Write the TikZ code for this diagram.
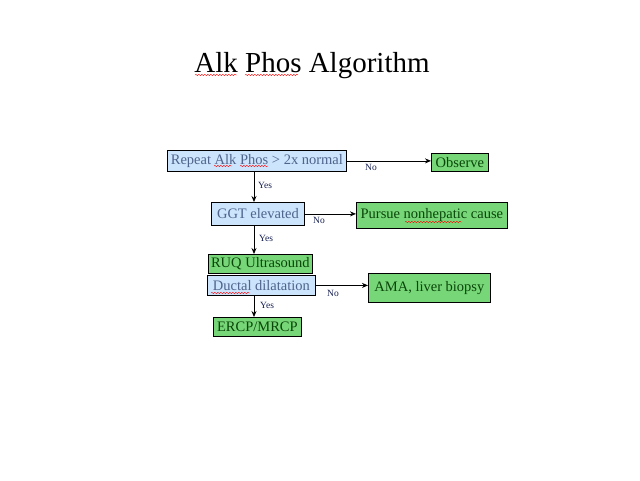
\documentclass[tikz,border=0pt]{standalone}
\usepackage{fontspec}
\setmainfont{Liberation Serif}
\usetikzlibrary{arrows.meta,decorations.pathmorphing}
\definecolor{bfill}{RGB}{204,228,252}
\definecolor{gfill}{RGB}{119,214,119}
\definecolor{btext}{RGB}{80,100,140}
\definecolor{gtext}{RGB}{10,70,10}
\definecolor{lbl}{RGB}{20,30,80}
\tikzset{
  bluebox/.style={draw=black, line width=0.8pt, fill=bfill, text=btext, font=\fontsize{14.5}{16}\selectfont, inner sep=0pt, anchor=north west},
  greenbox/.style={draw=black, line width=0.8pt, fill=gfill, text=gtext, font=\fontsize{14.5}{16}\selectfont, inner sep=0pt, anchor=north west},
  conn/.style={line width=0.8pt, -{Stealth[length=6pt,width=5pt]}},
  lab/.style={font=\fontsize{9.5}{10}\selectfont, text=lbl, inner sep=0pt},
  squig/.style={red, line width=0.4pt, decorate, decoration={snake, amplitude=0.7pt, segment length=3pt}},
}
\begin{document}
\begin{tikzpicture}[x=1pt,y=-1pt]
\useasboundingbox (0,0) rectangle (640,480);
\node[font=\fontsize{29}{32}\selectfont, anchor=base, inner sep=0pt] (title) at (312,72) {Alk Phos Algorithm};
\draw[squig] (195,75) -- (237,75);
\draw[squig] (245,75) -- (298,75);

\node[bluebox, minimum width=179pt, minimum height=21pt] (rep) at (167,150) {Repeat Alk Phos > 2x normal};
\node[greenbox, minimum width=57pt, minimum height=18pt] (obs) at (431,153) {Observe};
\node[bluebox, minimum width=93pt, minimum height=23pt] (ggt) at (211,202) {GGT elevated};
\node[greenbox, minimum width=151pt, minimum height=26pt] (pur) at (356,202) {Pursue nonhepatic cause};
\node[greenbox, minimum width=104pt, minimum height=19pt] (ruq) at (208,254) {RUQ Ultrasound};
\node[bluebox, minimum width=108pt, minimum height=20pt] (duc) at (207,275) {Ductal dilatation};
\node[greenbox, minimum width=122pt, minimum height=29pt] (ama) at (368,273) {AMA, liver biopsy};
\node[greenbox, minimum width=88pt, minimum height=19pt] (erc) at (213,317) {ERCP/MRCP};

\draw[squig] (214,166) -- (232,166);
\draw[squig] (240,166) -- (268,166);
\draw[squig] (405,222) -- (462,222);
\draw[squig] (211,293) -- (250,293);

\draw[conn] (rep.east) -- (rep.east -| obs.west);
\draw[conn] (ggt.east) -- (ggt.east -| pur.west);
\draw[conn] (duc.east) -- (duc.east -| ama.west);
\draw[conn] (254,171) -- (254,202);
\draw[conn] (254,225) -- (254,254);
\draw[conn] (254,295) -- (254,317);

\node[lab] (n1) at (371,167) {No};
\node[lab] (n2) at (319,220) {No};
\node[lab] (n3) at (333,293) {No};
\node[lab, anchor=west] (y1) at (258,185) {Yes};
\node[lab, anchor=west] (y2) at (259,238) {Yes};
\node[lab, anchor=west] (y3) at (260,305) {Yes};
\end{tikzpicture}
\end{document}
